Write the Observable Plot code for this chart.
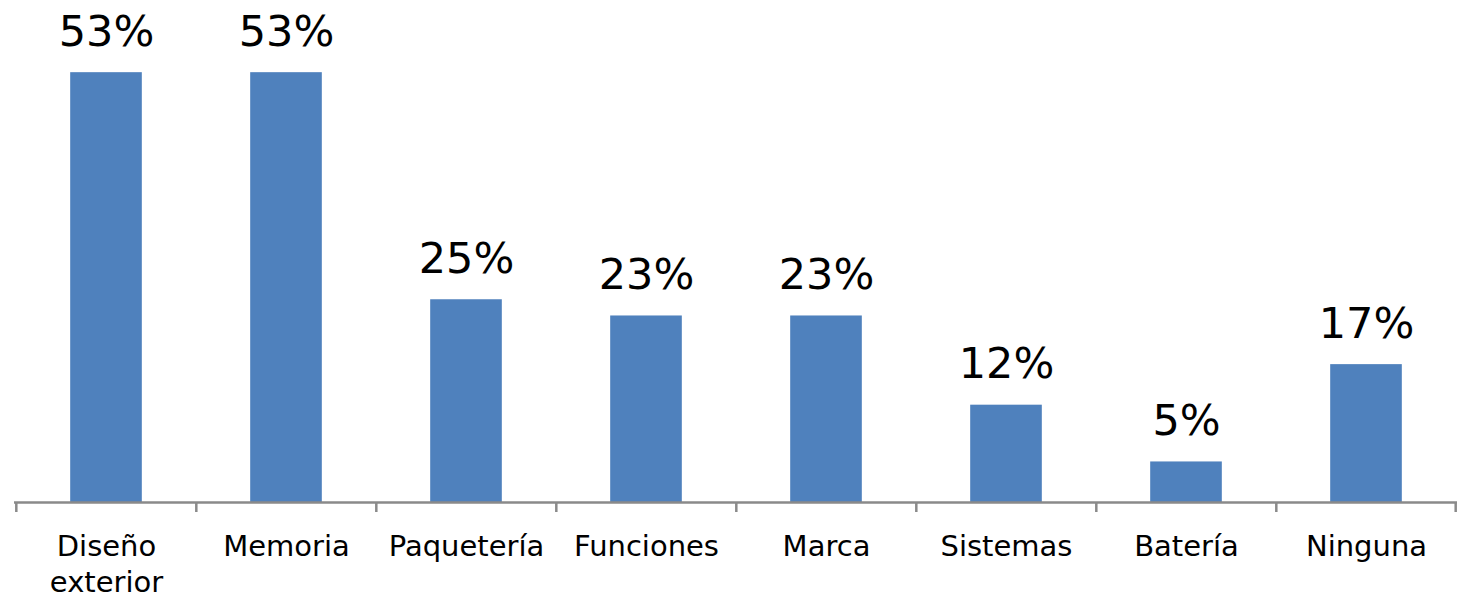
<!DOCTYPE html>
<html>
<head>
<meta charset="utf-8">
<script src="https://cdn.jsdelivr.net/npm/d3@7"></script>
<script src="https://cdn.jsdelivr.net/npm/@observablehq/plot@0.6"></script>
<style>
  html, body { margin: 0; padding: 0; background: #fff; overflow: hidden; }
  #chart { width: 1458px; height: 595px; }
</style>
</head>
<body>
<div id="chart"></div>
<script>
const categories = ["Diseño\nexterior", "Memoria", "Paquetería", "Funciones", "Marca", "Sistemas", "Batería", "Ninguna"];
const values = [53, 53, 25, 23, 23, 12, 5, 17];
const valueLabels = ["53%", "53%", "25%", "23%", "23%", "12%", "5%", "17%"];

const data = categories.map((c, i) => ({category: c, value: values[i], label: valueLabels[i]}));

const W = 1458, H = 595;
const marginLeft = 14, marginRight = 1;
const bw = (W - marginLeft - marginRight) / categories.length;
const barWidth = 72;
const inset = (bw - barWidth) / 2;
const font = "DejaVu Sans, Verdana, sans-serif";

const chart = Plot.plot({
  width: W,
  height: H,
  marginTop: 0,
  marginBottom: 93,
  marginLeft,
  marginRight,
  style: {fontFamily: font, background: "transparent", color: "#000"},
  x: {domain: categories, padding: 0, axis: null},
  y: {domain: [0, 61.9], axis: null},
  marks: [
    Plot.barY(data, {x: "category", y: "value", fill: "#4F81BD", insetLeft: inset, insetRight: inset}),
    Plot.ruleY([0], {stroke: "#8a8a8a", strokeWidth: 2.5}),
    Plot.ruleX(categories, {x: d => d, y1: 0, y2: 0, dx: -bw / 2, insetBottom: -10, stroke: "#8a8a8a", strokeWidth: 2.5}),
    Plot.ruleX(categories.slice(-1), {x: d => d, y1: 0, y2: 0, dx: bw / 2 - 1, insetBottom: -10, stroke: "#8a8a8a", strokeWidth: 2.5}),
    Plot.text(data, {x: "category", y: "value", text: "label", lineAnchor: "bottom", dy: -27, fontSize: 43, fill: "#000"}),
    Plot.text(data, {x: "category", y: 0, text: "category", lineAnchor: "top", dy: 27, fontSize: 29, lineHeight: 1.27, fill: "#000"})
  ]
});
document.getElementById("chart").appendChild(chart);
</script>
</body>
</html>
